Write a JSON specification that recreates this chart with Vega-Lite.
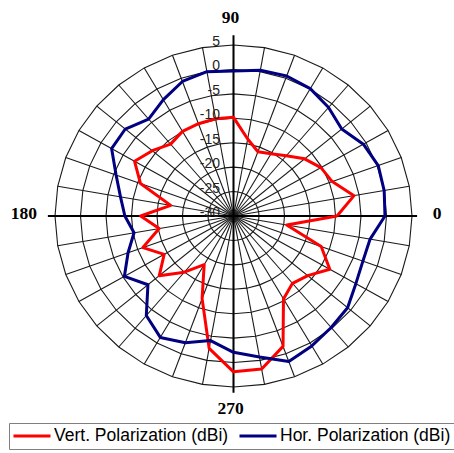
{
  "$schema": "https://vega.github.io/schema/vega-lite/v6.json",
  "width": 357,
  "height": 342,
  "autosize": {"type": "none"},
  "padding": {"left": 55, "top": 45, "right": 42, "bottom": 66},
  "background": "white",
  "config": {"view": {"stroke": null}},
  "datasets": {
    "pattern": [
      {"angle": 0, "vert": -9.7, "hor": -0.3},
      {"angle": 10, "vert": -6, "hor": 0},
      {"angle": 20, "vert": -9.4, "hor": 0.2},
      {"angle": 30, "vert": -10.2, "hor": -0.6},
      {"angle": 40, "vert": -11.8, "hor": -2.3},
      {"angle": 50, "vert": -13.9, "hor": -1},
      {"angle": 60, "vert": -15.3, "hor": 0.1},
      {"angle": 70, "vert": -16, "hor": 0.5},
      {"angle": 80, "vert": -14, "hor": 0.3},
      {"angle": 90, "vert": -9.8, "hor": -0.3},
      {"angle": 100, "vert": -9.8, "hor": 0},
      {"angle": 110, "vert": -9.9, "hor": -0.7},
      {"angle": 120, "vert": -10, "hor": -2.5},
      {"angle": 130, "vert": -10.8, "hor": -4.1},
      {"angle": 140, "vert": -9.2, "hor": -2.3},
      {"angle": 150, "vert": -7.6, "hor": -2.4},
      {"angle": 160, "vert": -10.6, "hor": -5.5},
      {"angle": 170, "vert": -17.5, "hor": -7.5},
      {"angle": 180, "vert": -11.8, "hor": -8.7},
      {"angle": 190, "vert": -15.2, "hor": -10.2},
      {"angle": 200, "vert": -11.1, "hor": -8},
      {"angle": 210, "vert": -14.3, "hor": -5.3},
      {"angle": 220, "vert": -11, "hor": -8.1},
      {"angle": 230, "vert": -15, "hor": -3.4},
      {"angle": 240, "vert": -18.5, "hor": -1.3},
      {"angle": 250, "vert": -12, "hor": -2.4},
      {"angle": 260, "vert": -2.5, "hor": -4.1},
      {"angle": 270, "vert": 1.9, "hor": -2.1},
      {"angle": 280, "vert": 1.8, "hor": -0.7},
      {"angle": 290, "vert": -1.6, "hor": 1.7},
      {"angle": 300, "vert": -10.4, "hor": 0.7},
      {"angle": 310, "vert": -12, "hor": -0.2},
      {"angle": 320, "vert": -11, "hor": -0.8},
      {"angle": 330, "vert": -8.2, "hor": -2.3},
      {"angle": 340, "vert": -11.7, "hor": -3},
      {"angle": 350, "vert": -19.4, "hor": -2.8},
      {"angle": 360, "vert": -9.7, "hor": -0.3}
    ],
    "grid": [
      {"levels": [-25, -20, -15, -10, -5, 0, 5], "angles": [0, 10, 20, 30, 40, 50, 60, 70, 80, 90, 100, 110, 120, 130, 140, 150, 160, 170, 180, 190, 200, 210, 220, 230, 240, 250, 260, 270, 280, 290, 300, 310, 320, 330, 340, 350, 360]}
    ],
    "spokes": [
      {"angles": [0, 10, 20, 30, 40, 50, 60, 70, 80, 90, 100, 110, 120, 130, 140, 150, 160, 170, 180, 190, 200, 210, 220, 230, 240, 250, 260, 270, 280, 290, 300, 310, 320, 330, 340, 350]}
    ],
    "radial": [
      {"db": 5, "label": "5"},
      {"db": 0, "label": "0"},
      {"db": -5, "label": "-5"},
      {"db": -10, "label": "-10"},
      {"db": -15, "label": "-15"},
      {"db": -20, "label": "-20"},
      {"db": -25, "label": "-25"},
      {"db": -30, "label": "-30"}
    ],
    "cats": [
      {"angle": 0, "label": "0"},
      {"angle": 90, "label": "90"},
      {"angle": 180, "label": "180"},
      {"angle": 270, "label": "270"}
    ]
  },
  "layer": [
    {
      "data": {"name": "grid"},
      "transform": [
        {"flatten": ["levels"]},
        {"flatten": ["angles"]},
        {"calculate": "(datum.levels + 30) * cos(datum.angles * PI / 180)", "as": "gx"},
        {"calculate": "(datum.levels + 30) * sin(datum.angles * PI / 180)", "as": "gy"}
      ],
      "mark": {"type": "line", "stroke": "#1a1a1a", "strokeWidth": 1.1},
      "encoding": {
        "x": {"field": "gx", "type": "quantitative", "scale": {"domain": [-35, 35], "nice": false, "zero": false}, "axis": null},
        "y": {"field": "gy", "type": "quantitative", "scale": {"domain": [-35, 35], "nice": false, "zero": false}, "axis": null},
        "detail": {"field": "levels"},
        "order": {"field": "angles", "type": "quantitative"}
      }
    },
    {
      "data": {"name": "spokes"},
      "transform": [
        {"flatten": ["angles"]},
        {"calculate": "35 * cos(datum.angles * PI / 180)", "as": "sx"},
        {"calculate": "35 * sin(datum.angles * PI / 180)", "as": "sy"}
      ],
      "mark": {"type": "rule", "stroke": "#1a1a1a", "strokeWidth": 1.1},
      "encoding": {
        "x": {"field": "sx", "type": "quantitative", "scale": {"domain": [-35, 35], "nice": false, "zero": false}, "axis": null},
        "y": {"field": "sy", "type": "quantitative", "scale": {"domain": [-35, 35], "nice": false, "zero": false}, "axis": null},
        "x2": {"datum": 0},
        "y2": {"datum": 0}
      }
    },
    {
      "data": {"values": [{}]},
      "mark": {"type": "rule", "stroke": "black", "strokeWidth": 2},
      "encoding": {
        "x": {"datum": -36.4, "type": "quantitative", "scale": {"domain": [-35, 35], "nice": false, "zero": false}, "axis": null},
        "x2": {"datum": 36},
        "y": {"datum": 0, "type": "quantitative", "scale": {"domain": [-35, 35], "nice": false, "zero": false}, "axis": null}
      }
    },
    {
      "data": {"values": [{}]},
      "mark": {"type": "rule", "stroke": "black", "strokeWidth": 2},
      "encoding": {
        "y": {"datum": 37, "type": "quantitative", "scale": {"domain": [-35, 35], "nice": false, "zero": false}, "axis": null},
        "y2": {"datum": -36.2},
        "x": {"datum": 0, "type": "quantitative", "scale": {"domain": [-35, 35], "nice": false, "zero": false}, "axis": null}
      }
    },
    {
      "data": {"name": "pattern"},
      "transform": [
        {"fold": ["vert", "hor"], "as": ["key", "db"]},
        {"calculate": "(datum.db + 30) * cos(datum.angle * PI / 180)", "as": "px"},
        {"calculate": "(datum.db + 30) * sin(datum.angle * PI / 180)", "as": "py"}
      ],
      "mark": {"type": "line", "strokeWidth": 3, "strokeJoin": "round"},
      "encoding": {
        "x": {"field": "px", "type": "quantitative", "scale": {"domain": [-35, 35], "nice": false, "zero": false}, "axis": null},
        "y": {"field": "py", "type": "quantitative", "scale": {"domain": [-35, 35], "nice": false, "zero": false}, "axis": null},
        "order": {"field": "angle", "type": "quantitative"},
        "color": {
          "field": "key",
          "type": "nominal",
          "scale": {"domain": ["vert", "hor"], "range": ["#FF0000", "#000080"]},
          "legend": {
            "title": null,
            "orient": "none",
            "legendX": -46,
            "legendY": 378,
            "direction": "horizontal",
            "columns": 2,
            "symbolType": "stroke",
            "symbolSize": 1369,
            "symbolStrokeWidth": 3,
            "clipHeight": 20,
            "labelFont": "Liberation Sans",
            "labelFontSize": 17.5,
            "labelColor": "black",
            "labelOffset": 2,
            "labelLimit": 300,
            "columnPadding": 9,
            "padding": 3,
            "strokeColor": "#808080",
            "fillColor": "white",
            "labelExpr": "datum.label == 'vert' ? 'Vert. Polarization (dBi)' : 'Hor. Polarization (dBi)'"
          }
        }
      }
    },
    {
      "data": {"name": "radial"},
      "transform": [{"calculate": "datum.db + 30", "as": "r"}],
      "mark": {"type": "text", "align": "right", "baseline": "middle", "dy": -3, "font": "Liberation Sans", "fontSize": 14, "color": "#222222"},
      "encoding": {
        "x": {"datum": -2.65, "type": "quantitative", "scale": {"domain": [-35, 35], "nice": false, "zero": false}, "axis": null},
        "y": {"field": "r", "type": "quantitative", "scale": {"domain": [-35, 35], "nice": false, "zero": false}, "axis": null},
        "text": {"field": "label"}
      }
    },
    {
      "data": {"name": "cats"},
      "transform": [
        {"calculate": "40.5 * cos(datum.angle * PI / 180)", "as": "cx"},
        {"calculate": "40 * sin(datum.angle * PI / 180)", "as": "cy"}
      ],
      "mark": {"type": "text", "align": "center", "baseline": "middle", "dx": -3, "dy": -2.5, "font": "Liberation Serif", "fontWeight": "bold", "fontSize": 17.5, "color": "black"},
      "encoding": {
        "x": {"field": "cx", "type": "quantitative", "scale": {"domain": [-35, 35], "nice": false, "zero": false}, "axis": null},
        "y": {"field": "cy", "type": "quantitative", "scale": {"domain": [-35, 35], "nice": false, "zero": false}, "axis": null},
        "text": {"field": "label"}
      }
    }
  ]
}
